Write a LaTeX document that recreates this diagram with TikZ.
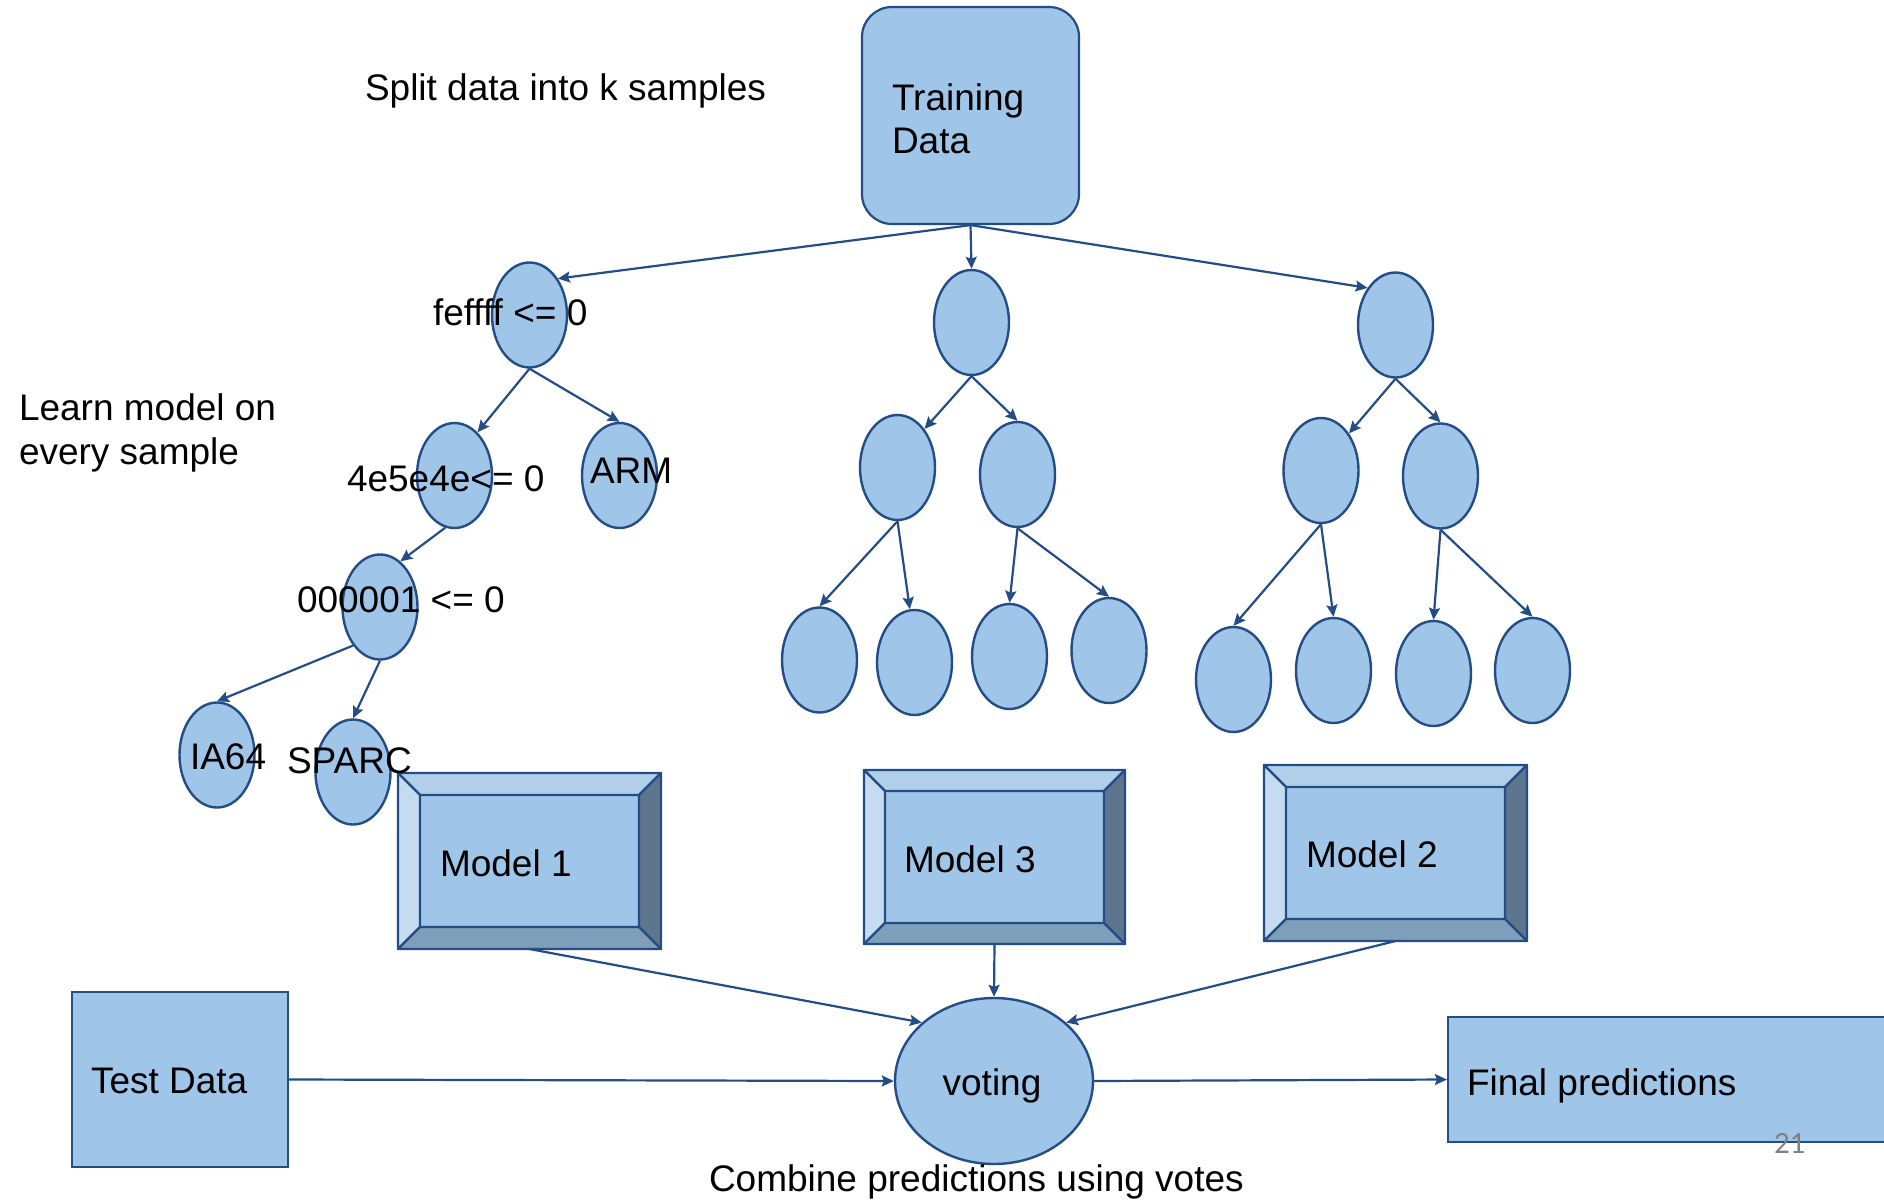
\documentclass[tikz,border=0pt]{standalone}
\usepackage{fontspec}
\setmainfont{Liberation Sans}
\newfontfamily\pagenumfont{Carlito}
\usetikzlibrary{arrows.meta,shapes.geometric,calc}
\definecolor{boxfill}{RGB}{159,197,232}
\definecolor{linec}{RGB}{36,76,133}
\definecolor{bvtop}{RGB}{178,207,234}
\definecolor{bvleft}{RGB}{197,219,240}
\definecolor{bvright}{RGB}{94,117,142}
\definecolor{bvbottom}{RGB}{127,158,185}
\definecolor{pagegrey}{RGB}{128,128,128}
\newcommand\bevelfaces[2]{%
  \filldraw[fill=bvtop,draw=linec,line width=1.1pt,line join=round] (#1.north west) -- (#1.north east) -- ($(#1.north east)+(-#2,#2)$) -- ($(#1.north west)+(#2,#2)$) -- cycle;
  \filldraw[fill=bvleft,draw=linec,line width=1.1pt,line join=round] (#1.north west) -- ($(#1.north west)+(#2,#2)$) -- ($(#1.south west)+(#2,-#2)$) -- (#1.south west) -- cycle;
  \filldraw[fill=bvright,draw=linec,line width=1.1pt,line join=round] (#1.north east) -- ($(#1.north east)+(-#2,#2)$) -- ($(#1.south east)+(-#2,-#2)$) -- (#1.south east) -- cycle;
  \filldraw[fill=bvbottom,draw=linec,line width=1.1pt,line join=round] (#1.south west) -- ($(#1.south west)+(#2,-#2)$) -- ($(#1.south east)+(-#2,-#2)$) -- (#1.south east) -- cycle;
}
\begin{document}
\begin{tikzpicture}[x=0.5pt,y=-0.5pt,
  every node/.style={font=\fontsize{18.5pt}{22pt}\selectfont},
  lbl/.style={anchor=base west, inner sep=0pt, outer sep=0pt},
  treenode/.style={ellipse, draw=linec, fill=boxfill, line width=1.2pt, minimum width=37.5pt, minimum height=52.5pt, inner sep=0pt},
  flatbox/.style={rectangle, draw=linec, fill=boxfill, line width=1.1pt, inner sep=0pt},
  modelbox/.style={rectangle, draw=linec, fill=boxfill, line width=1.1pt, inner sep=0pt, outer sep=0pt},
  conn/.style={draw=linec, line width=1.1pt, -{Stealth[length=6pt,width=5.5pt,inset=1pt]}}]
\useasboundingbox (0,0) rectangle (1884,1199);
\clip (0,0) rectangle (1884,1199);

% boxes
\node[flatbox, rounded corners=15pt, minimum width=108.5pt, minimum height=108.5pt] (td) at (970.5,115.5) {};
\node[lbl] (tdt1) at (892,110) {Training};
\node[lbl] (tdt2) at (892,153) {Data};

\node[flatbox, minimum width=108pt, minimum height=87.5pt] (test) at (180,1079.5) {};
\node[lbl] (testt) at (91,1093) {Test Data};

\node[flatbox, minimum width=226pt, minimum height=62.5pt] (final) at (1674,1079.5) {};
\node[lbl] (finalt) at (1467,1095) {Final predictions};

\node[ellipse, draw=linec, fill=boxfill, line width=1.2pt, minimum width=99pt, minimum height=83pt, inner sep=0pt] (vote) at (994,1081) {};
\node[anchor=base, inner sep=0pt] (votet) at (992,1095) {voting};

% model boxes
\node[modelbox, minimum width=131.5pt, minimum height=88pt] (m1) at (529.5,861) {};
\bevelfaces{m1}{22}
\node[lbl] (m1t) at (440,876) {Model 1};
\node[modelbox, minimum width=130.5pt, minimum height=87pt] (m3) at (994.5,857) {};
\bevelfaces{m3}{21}
\node[lbl] (m3t) at (904,872) {Model 3};
\node[modelbox, minimum width=131.5pt, minimum height=88pt] (m2) at (1395.5,853) {};
\bevelfaces{m2}{22}
\node[lbl] (m2t) at (1306,867) {Model 2};

% tree 1
\node[treenode] (r1) at (529.5,315) {};
\node[treenode] (a1) at (454.5,475.5) {};
\node[treenode] (arm) at (619.5,475.5) {};
\node[treenode] (b1) at (380,607) {};
\node[treenode] (ia) at (217,755) {};
\node[treenode] (sp) at (353,772) {};
% tree 2
\node[treenode] (r2) at (971.5,322.5) {};
\node[treenode] (c1) at (897.5,467.5) {};
\node[treenode] (c2) at (1017.5,474.5) {};
\node[treenode] (l1) at (819.5,660) {};
\node[treenode] (l2) at (914.5,662.5) {};
\node[treenode] (l3) at (1009.5,656.5) {};
\node[treenode] (l4) at (1109,650.5) {};
% tree 3
\node[treenode] (r3) at (1395.5,325) {};
\node[treenode] (d1) at (1321,470.5) {};
\node[treenode] (d2) at (1440.5,476) {};
\node[treenode] (e1) at (1233.5,679.5) {};
\node[treenode] (e2) at (1333.5,670.5) {};
\node[treenode] (e3) at (1433.5,673.5) {};
\node[treenode] (e4) at (1532.5,670.5) {};

% labels
\node[lbl] (split) at (365,100) {Split data into k samples};
\node[lbl] (learn1) at (19,420) {Learn model on};
\node[lbl] (learn2) at (19,464) {every sample};
\node[lbl] (fl) at (433,325) {feffff <= 0};
\node[lbl] (al) at (347,491) {4e5e4e<= 0};
\node[lbl] (arml) at (590,483) {ARM};
\node[lbl] (bl) at (297,612) {000001 <= 0};
\node[lbl] (ial) at (190,769) {IA64};
\node[lbl] (spl) at (287,773) {SPARC};
\node[lbl] (comb) at (709,1191) {Combine predictions using votes};
\node[lbl, font=\pagenumfont\fontsize{15.5pt}{18pt}\selectfont, text=pagegrey] (pg) at (1774,1153) {21};

% connectors
\draw[conn] (td.south) -- (r1.52);
\draw[conn] (td.south) -- (r2.north);
\draw[conn] (td.south) -- (r3.127);
\draw[conn] (r1.south) -- (a1.62);
\draw[conn] (r1.south) -- (arm.north);
\draw[conn] (a1.260) -- (b1.66);
\draw[conn] (b1.235) -- (ia.north);
\draw[conn] (b1.south) -- (sp.north);
\draw[conn] (r2.south) -- (c1.55);
\draw[conn] (r2.south) -- (c2.north);
\draw[conn] (c1.south) -- (l1.north);
\draw[conn] (c1.south) -- (l2.95);
\draw[conn] (c2.south) -- (l3.north);
\draw[conn] (c2.south) -- (l4.north);
\draw[conn] (r3.south) -- (d1.53);
\draw[conn] (r3.south) -- (d2.north);
\draw[conn] (d1.south) -- (e1.north);
\draw[conn] (d1.south) -- (e2.north);
\draw[conn] (d2.south) -- (e3.north);
\draw[conn] (d2.south) -- (e4.north);
\draw[conn] (m1.south) -- (vote.141);
\draw[conn] (m3.south) -- (vote.north);
\draw[conn] (m2.south) -- (vote.39);
\draw[conn] (test.east) -- (vote.west);
\draw[conn] (vote.east) -- (final.west);
\end{tikzpicture}
\end{document}
